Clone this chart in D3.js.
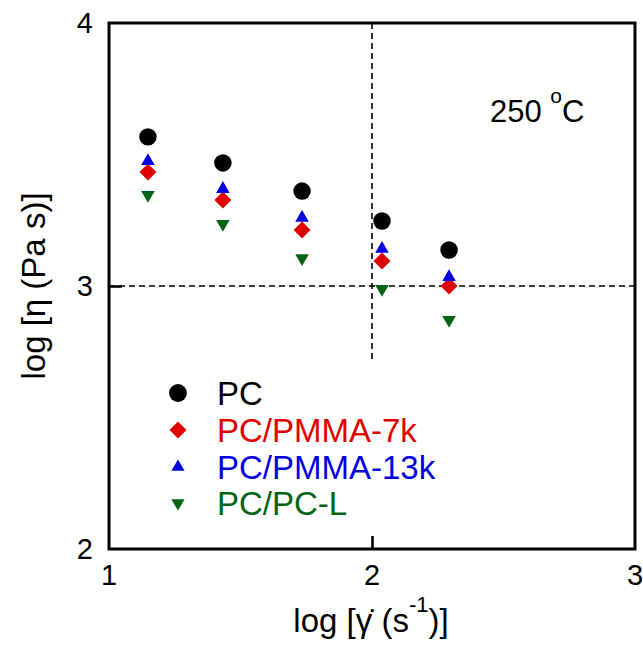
<!DOCTYPE html>
<html>
<head>
<meta charset="utf-8">
<script src="https://cdn.jsdelivr.net/npm/d3@7"></script>
<style>
  body { margin: 0; background: #fff; }
  text { font-family: "Liberation Sans", Arial, sans-serif; }
</style>
</head>
<body>
<svg id="chart" width="643" height="645"></svg>
<script>
// log shear rate (x) and log viscosity (y)
const shearRate = [1.148, 1.433, 1.734, 2.038, 2.293]
const pc = [3.567, 3.468, 3.361, 3.247, 3.137]
const pmma7k = [3.433, 3.327, 3.213, 3.095, 3.0]
const pmma13k = [3.475, 3.369, 3.259, 3.141, 3.034]
const pcL = [3.346, 3.236, 3.106, 2.989, 2.871]

const seriesNames = ['PC', 'PC/PMMA-7k', 'PC/PMMA-13k', 'PC/PC-L']
const seriesColors = ['#000000', '#e00000', '#0000e0', '#006414']
const xTicks = [1, 2, 3]
const yTicks = [2, 3, 4]

const plotLeft = 109, plotRight = 635, plotTop = 23, plotBottom = 549

const svg = d3.select('#chart')

const x = d3.scaleLinear().domain([1, 3]).range([plotLeft, plotRight])
const y = d3.scaleLinear().domain([2, 4]).range([plotBottom, plotTop])

const series = [pc, pmma7k, pmma13k, pcL].map((vals, i) => ({
  name: seriesNames[i],
  color: seriesColors[i],
  points: vals.map((v, j) => ({ x: shearRate[j], y: v }))
}))

// circle, diamond (rotated square), up triangle, down triangle
const sym = [
  d3.symbol().type(d3.symbolCircle).size(240),
  d3.symbol().type(d3.symbolSquare).size(144),
  d3.symbol().type(d3.symbolTriangle).size(80),
  d3.symbol().type(d3.symbolTriangle).size(80)
]
const legendSym = [
  d3.symbol().type(d3.symbolCircle).size(250),
  d3.symbol().type(d3.symbolSquare).size(144),
  d3.symbol().type(d3.symbolTriangle).size(75),
  d3.symbol().type(d3.symbolTriangle).size(75)
]
const rot = [0, 45, 0, 180]

// dashed guide lines at x = 2 and y = 3
svg.append('line')
    .attr('x1', x(1)).attr('x2', x(3))
    .attr('y1', y(3)).attr('y2', y(3))
    .attr('stroke', '#000').attr('stroke-width', 1.6)
    .attr('stroke-dasharray', '6,4')
svg.append('line')
    .attr('x1', x(2)).attr('x2', x(2))
    .attr('y1', y(4)).attr('y2', y(2.71))
    .attr('stroke', '#000').attr('stroke-width', 1.6)
    .attr('stroke-dasharray', '6,4')

// draw order: green, red, blue, black on top
const order = [3, 1, 2, 0]
order.forEach(i => {
  const s = series[i]
  svg.append('g').selectAll('path')
      .data(s.points)
      .enter().append('path')
      .attr('d', sym[i])
      .attr('transform', d => `translate(${x(d.x)},${y(d.y)}) rotate(${rot[i]})`)
      .attr('fill', s.color)
})

// frame
svg.append('rect')
    .attr('x', plotLeft).attr('y', plotTop)
    .attr('width', plotRight - plotLeft).attr('height', plotBottom - plotTop)
    .attr('fill', 'none').attr('stroke', '#000').attr('stroke-width', 3)

// inner ticks
const xAxis = d3.axisTop(x).tickValues([2]).tickSize(13).tickFormat('')
svg.append('g').attr('transform', `translate(0,${plotBottom})`).call(xAxis)
const yAxis = d3.axisRight(y).tickValues([3]).tickSize(13).tickFormat('')
svg.append('g').attr('transform', `translate(${plotLeft},0)`).call(yAxis)
svg.selectAll('.domain').remove()
svg.selectAll('.tick line').attr('stroke', '#000').attr('stroke-width', 2.6)

// tick labels
svg.append('g').selectAll('text')
    .data(xTicks)
    .enter().append('text')
    .attr('x', d => x(d))
    .attr('y', 585)
    .attr('text-anchor', 'middle')
    .attr('font-size', 29)
    .text(d => d)
svg.append('g').selectAll('text')
    .data(yTicks)
    .enter().append('text')
    .attr('x', 93)
    .attr('y', d => y(d) + 10)
    .attr('text-anchor', 'end')
    .attr('font-size', 29)
    .text(d => d)

// axis titles
const xt = svg.append('text')
    .attr('x', 371).attr('y', 632)
    .attr('text-anchor', 'middle')
    .attr('font-size', 33)
xt.append('tspan').text('log [')
xt.append('tspan').text('\u03B3\u0307')
xt.append('tspan').text(' (s')
xt.append('tspan').attr('dy', -20).attr('font-size', 22).text('-1')
xt.append('tspan').attr('dy', 20).text(')]')

svg.append('text')
    .attr('transform', `translate(45,${y(3)}) rotate(-90)`)
    .attr('text-anchor', 'middle')
    .attr('font-size', 33)
    .text('log [\u03B7 (Pa s)]')

// temperature
const tt = svg.append('text')
    .attr('x', 490).attr('y', 122)
    .attr('font-size', 31)
tt.append('tspan').text('250 ')
tt.append('tspan').attr('dy', -19).attr('font-size', 21).text('o')
tt.append('tspan').attr('dy', 19).text('C')

// legend
const legendY = [393, 430, 467, 503]
series.forEach((s, i) => {
  svg.append('path')
      .attr('d', legendSym[i])
      .attr('transform', `translate(178,${legendY[i]}) rotate(${rot[i]})`)
      .attr('fill', s.color)
  svg.append('text')
      .attr('x', 217).attr('y', legendY[i] + 12)
      .attr('font-size', 33)
      .attr('fill', s.color)
      .text(s.name)
})
</script>
</body>
</html>
